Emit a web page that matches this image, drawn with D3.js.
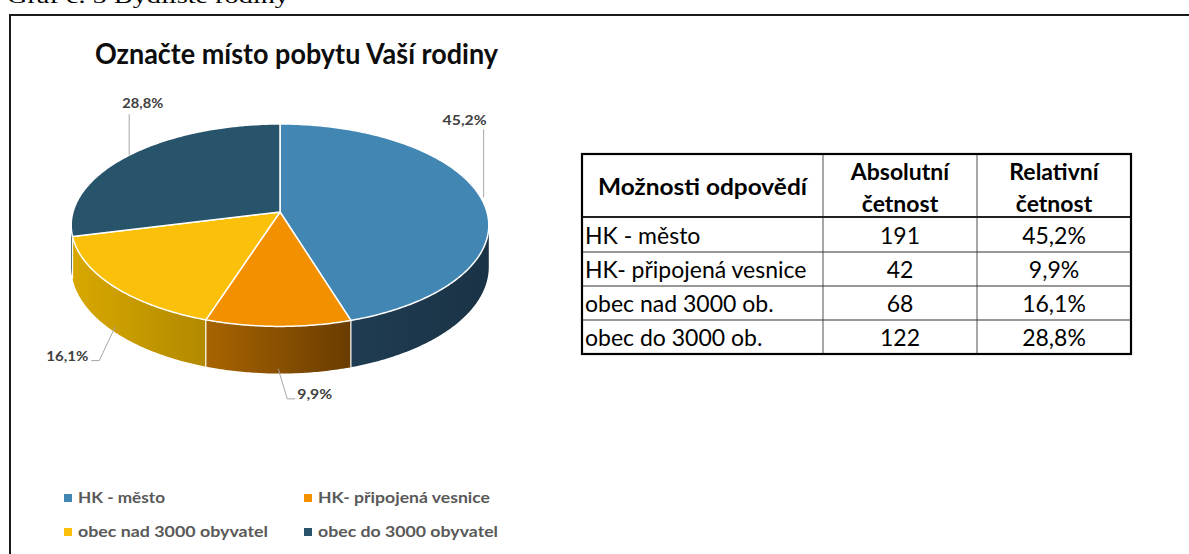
<!DOCTYPE html>
<html lang="cs">
<head>
  <meta charset="UTF-8" />
  <title>Označte místo pobytu Vaší rodiny</title>
  <script src="https://d3js.org/d3.v7.min.js"></script>
  <style>
    body { margin: 0; background: #fff; }
    svg { display: block; }
    .lbl { font-family: Lato, "Open Sans", sans-serif; font-weight: bold; fill: #404040; }
    .leader { fill: none; stroke: #a6a6a6; stroke-width: 1px; }
    .legend text { font-family: Lato, sans-serif; font-weight: bold; font-size: 15px; fill: #595959; }
    .tbl text { font-family: Lato, "Open Sans", sans-serif; font-size: 23px; fill: #000; }
  </style>
</head>
<body>

<div id="chart"></div>

<script>
// ---- data ----
const categories = ["HK - město", "HK- připojená vesnice", "obec nad 3000 obyvatel", "obec do 3000 obyvatel"];
const tableLabels = ["HK - město", "HK- připojená vesnice", "obec nad 3000 ob.", "obec do 3000 ob."];
const counts = [191, 42, 68, 122];
const tableHeaders = [["Možnosti odpovědí"], ["Absolutní", "četnost"], ["Relativní", "četnost"]];
const chartTitle = "Označte místo pobytu Vaší rodiny";
const caption = "Graf č. 5 Bydliště rodiny";

// ---- styles ----
const topColors = ["#4287b3", "#f39000", "#fbc10a", "#27536b"];
const sideColors = [["#1f3c52", "#1a3245"], ["#a86400", "#693c00"], ["#d8a800", "#b28900"], ["#1e3e52", "#1e3e52"]];

const width = 1189, height = 554;

// Czech number format (decimal comma)
const cz = d3.formatLocale({ decimal: ",", thousands: " ", grouping: [3], currency: ["", " Kč"] });
const fmtPct = cz.format(".1%");
const total = d3.sum(counts);

const svg = d3.select("#chart").append("svg")
  .attr("width", width)
  .attr("height", height);

const defs = svg.append("defs");

// caption above the frame (cut off at the top of the picture, as in the source)
svg.append("text")
  .attr("x", 7).attr("y", 3)
  .attr("font-family", "Liberation Serif, serif")
  .attr("font-size", 22)
  .attr("fill", "#000")
  .attr("textLength", 282).attr("lengthAdjust", "spacingAndGlyphs")
  .text(caption);

// outer frame (left and top edges)
svg.append("path")
  .attr("d", `M10,${height} V15 H${width}`)
  .attr("fill", "none")
  .attr("stroke", "#1a1a1a")
  .attr("stroke-width", 2);

// chart title
svg.append("text")
  .attr("x", 95).attr("y", 64)
  .attr("font-family", "Lato, sans-serif")
  .attr("font-weight", "bold")
  .attr("font-size", 28)
  .attr("fill", "#0d0d0d")
  .attr("textLength", 403).attr("lengthAdjust", "spacingAndGlyphs")
  .text(chartTitle);

// ---- 3D pie with perspective ----
const cx = 280, cy = 212;      // projected pie centre
const A = 207, B = 99.5;       // horizontal / vertical radius
const persp = 7.67;            // camera distance (in radii)
const depth = 41;              // thickness of the pie

// project angle on the rim (0 = top, clockwise), down = fraction of thickness
function proj(theta, down = 0) {
  const X = Math.sin(theta), Z = Math.cos(theta);
  const s = persp / (persp + Z);
  return [cx + A * X * s, cy - B * Z * s + down * depth * s];
}

function arcPoints(a0, a1, down) {
  const n = Math.max(2, Math.ceil((a1 - a0) / 0.01));
  return d3.range(n + 1).map(i => proj(a0 + (a1 - a0) * i / n, down));
}

const pie = d3.pie().sort(null).value(d => d)(counts);

// visible front arc of the side wall
const vis0 = Math.acos(-1 / persp), vis1 = 2 * Math.PI - vis0;

const gPie = svg.append("g");

// side walls
pie.forEach((p, i) => {
  const a0 = Math.max(p.startAngle, vis0), a1 = Math.min(p.endAngle, vis1);
  if (a1 <= a0) return;
  const grad = defs.append("linearGradient")
    .attr("id", "side" + i)
    .attr("x1", 0).attr("x2", 1).attr("y1", 0).attr("y2", 0);
  grad.append("stop").attr("offset", 0).attr("stop-color", sideColors[i][0]);
  grad.append("stop").attr("offset", 1).attr("stop-color", sideColors[i][1]);
  const pts = arcPoints(a0, a1, 0).concat(arcPoints(a0, a1, 1).reverse());
  gPie.append("path")
    .attr("d", d3.line()(pts) + "Z")
    .attr("fill", `url(#side${i})`);
});

// white seams on the side wall at slice boundaries
pie.forEach(p => {
  const a = p.startAngle;
  if (a > vis0 && a < vis1) {
    gPie.append("line")
      .attr("x1", proj(a, 0)[0]).attr("y1", proj(a, 0)[1])
      .attr("x2", proj(a, 1)[0]).attr("y2", proj(a, 1)[1])
      .attr("stroke", "#fff").attr("stroke-width", 1.2);
  }
});

// top faces
pie.forEach((p, i) => {
  const pts = [[cx, cy]].concat(arcPoints(p.startAngle, p.endAngle, 0));
  gPie.append("path")
    .attr("d", d3.line()(pts) + "Z")
    .attr("fill", topColors[i])
    .attr("stroke", "#fff")
    .attr("stroke-width", 1.5)
    .attr("stroke-linejoin", "round");
});

// ---- data labels with leader lines ----
// anchor: point on the rim (front slices on the side wall); leader offsets relative to it
const labelLayout = [
  { down: 0,   leader: [[3, 0], [3, -68]],             tx: 6,   ty: -72, anchor: "end" },
  { down: 0.9, leader: [[0, 0], [9, 30], [17, 30]],    tx: 19,  ty: 30,  anchor: "start" },
  { down: 0.9, leader: [[2, 0], [-14, 34], [-22, 34]], tx: -25, ty: 34,  anchor: "end" },
  { down: 0,   leader: [[0, 0], [0, -41]],             tx: -7,  ty: -47, anchor: "start" }
];
const labelWidths = [44, 35, 42, 41];

pie.forEach((p, i) => {
  const mid = (p.startAngle + p.endAngle) / 2;
  const L = labelLayout[i];
  const [ax, ay] = proj(mid, L.down);
  svg.append("path")
    .attr("class", "leader")
    .attr("d", d3.line()(L.leader.map(o => [ax + o[0], ay + o[1]])));
  svg.append("text")
    .attr("class", "lbl")
    .attr("x", ax + L.tx).attr("y", ay + L.ty)
    .attr("text-anchor", L.anchor)
    .attr("font-size", 14)
    .attr("textLength", labelWidths[i]).attr("lengthAdjust", "spacingAndGlyphs")
    .text(fmtPct(p.data / total));
});

// ---- legend ----
const legX = d3.scalePoint().domain([0, 1]).range([64, 304]);
const legY = d3.scalePoint().domain([0, 1]).range([503, 537]);
const legWidths = [87, 172, 190, 180];
const legend = svg.append("g").attr("class", "legend")
  .selectAll("g").data(categories).join("g")
  .attr("transform", (d, i) => `translate(${legX(i % 2)},${legY(Math.floor(i / 2))})`);
legend.append("rect")
  .attr("x", 0).attr("y", -9).attr("width", 8).attr("height", 8)
  .attr("fill", (d, i) => topColors[i]);
legend.append("text")
  .attr("x", 14).attr("y", 0)
  .attr("textLength", (d, i) => legWidths[i]).attr("lengthAdjust", "spacingAndGlyphs")
  .text(d => d);

// ---- frequency table ----
const colEdges = [582, 823, 977, 1131];
const rowEdges = [154, 217, 252, 286, 320, 354];
const tbl = svg.append("g").attr("class", "tbl");

// body rows
const rows = counts.map((c, i) => [tableLabels[i], String(c), fmtPct(c / total)]);
rows.forEach((r, ri) => {
  const base = rowEdges[ri + 2] - 8;
  tbl.append("text").attr("x", colEdges[0] + 3).attr("y", base).text(r[0]);
  [1, 2].forEach(ci => {
    tbl.append("text")
      .attr("x", (colEdges[ci] + colEdges[ci + 1]) / 2).attr("y", base)
      .attr("text-anchor", "middle")
      .text(r[ci]);
  });
});

// header
tableHeaders.forEach((lines, ci) => {
  const xMid = (colEdges[ci] + colEdges[ci + 1]) / 2;
  const baselines = lines.length === 1 ? [195] : [180, 212];
  lines.forEach((t, li) => {
    const h = tbl.append("text")
      .attr("x", xMid).attr("y", baselines[li])
      .attr("text-anchor", "middle")
      .attr("font-weight", "bold")
      .text(t);
    if (lines.length === 1) h.attr("textLength", 209).attr("lengthAdjust", "spacingAndGlyphs");
  });
});

// grid lines
colEdges.slice(1, -1).forEach(x => {
  tbl.append("line")
    .attr("x1", x).attr("x2", x).attr("y1", rowEdges[0]).attr("y2", rowEdges[rowEdges.length - 1])
    .attr("stroke", "#6e6e6e").attr("stroke-width", 1.2);
});
rowEdges.slice(1, -1).forEach((y, i) => {
  tbl.append("line")
    .attr("x1", colEdges[0]).attr("x2", colEdges[colEdges.length - 1]).attr("y1", y).attr("y2", y)
    .attr("stroke", i === 0 ? "#222" : "#333").attr("stroke-width", i === 0 ? 2.2 : 1.2);
});
tbl.append("rect")
  .attr("x", colEdges[0]).attr("y", rowEdges[0])
  .attr("width", colEdges[3] - colEdges[0]).attr("height", rowEdges[5] - rowEdges[0])
  .attr("fill", "none").attr("stroke", "#000").attr("stroke-width", 2.2);
</script>

</body>
</html>
